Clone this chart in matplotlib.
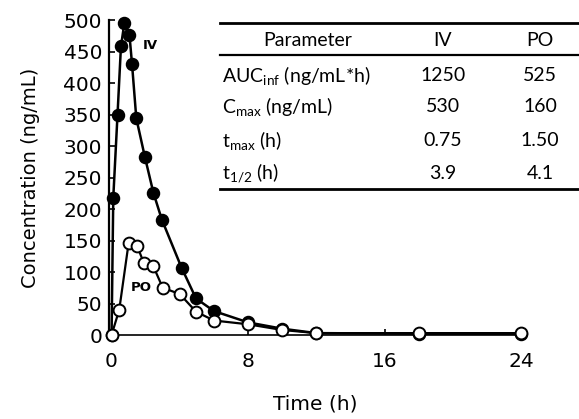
import matplotlib.pyplot as plt

plt.rcParams['font.family'] = 'DejaVu Sans'
plt.rcParams['mathtext.default'] = 'regular'

# concentration-time data
iv_time = [0, 0.1, 0.35, 0.55, 0.75, 1.05, 1.2, 1.45, 1.95, 2.45, 2.95, 4.1, 4.95, 6.0, 8.0, 10, 12, 18, 24]
iv_conc = [0, 218, 350, 458, 495, 476, 430, 344, 283, 226, 183, 107, 58, 38, 20, 10, 3, 2, 2]

po_time = [0, 0.45, 1.0, 1.5, 1.9, 2.45, 3.0, 4.0, 4.95, 6.0, 8.0, 10, 12, 18, 24]
po_conc = [0, 40, 146, 141, 114, 109, 75, 65, 37, 23, 17, 8, 3, 3, 3]

x_ticks = [0, 8, 16, 24]
y_ticks = list(range(0, 501, 50))

# PK parameter table
param_names = [r"AUC$_{inf}$ (ng/mL*h)", r"C$_{max}$ (ng/mL)", r"t$_{max}$ (h)", r"t$_{1/2}$ (h)"]
iv_params = ["1250", "530", "0.75", "3.9"]
po_params = ["525", "160", "1.50", "4.1"]

fig = plt.figure(figsize=(5.79, 4.19), dpi=100)
ax = fig.add_axes([109/579, 84/419, 412/579, 315/419])

ax.plot(iv_time, iv_conc, '-o', color='black', lw=1.8, ms=8.5,
        mfc='black', mec='black', mew=1.2, clip_on=False, zorder=3)
ax.plot(po_time, po_conc, '-o', color='black', lw=1.6, ms=8.5,
        mfc='white', mec='black', mew=1.4, clip_on=False, zorder=4)

ax.text(1.8, 460, "IV", fontsize=9.5, fontweight='bold', va='center')
ax.text(1.1, 75, "PO", fontsize=9.5, fontweight='bold', va='center')

ax.set_xlim(-0.15, 24)
ax.set_ylim(0, 500)
ax.set_xticks(x_ticks)
ax.set_yticks(y_ticks)
ax.tick_params(direction='in', length=4, width=1.2, labelsize=14.5)
ax.tick_params(axis='y', pad=5)
ax.tick_params(axis='x', pad=12)
ax.spines['top'].set_visible(False)
ax.spines['right'].set_visible(False)
ax.spines['left'].set_linewidth(1.6)
ax.spines['bottom'].set_linewidth(1.2)
ax.set_xlabel("Time (h)", fontsize=14.5, labelpad=17)
ax.set_ylabel("Concentration (ng/mL)", fontsize=14, labelpad=17)

# table drawn in figure pixel coords
W, H = 579, 419
def fx(p):
    return p / W
def fy(p):
    return 1 - p / H

tfont = dict(family='Lato', fontsize=14, va='center')
for yline, lw in [(23, 2.0), (55, 1.6), (189, 2.0)]:
    fig.add_artist(plt.Line2D([fx(220), fx(579)], [fy(yline), fy(yline)], color='black', lw=lw))
fig.text(fx(308), fy(41), "Parameter", ha='center', **tfont)
fig.text(fx(443), fy(41), "IV", ha='center', **tfont)
fig.text(fx(540), fy(41), "PO", ha='center', **tfont)
row_y = [75, 107, 140, 173]
for i in range(len(param_names)):
    fig.text(fx(222), fy(row_y[i]), param_names[i], ha='left', **tfont)
    fig.text(fx(443), fy(row_y[i]), iv_params[i], ha='center', **tfont)
    fig.text(fx(540), fy(row_y[i]), po_params[i], ha='center', **tfont)

fig.savefig("out.png", dpi=100)
